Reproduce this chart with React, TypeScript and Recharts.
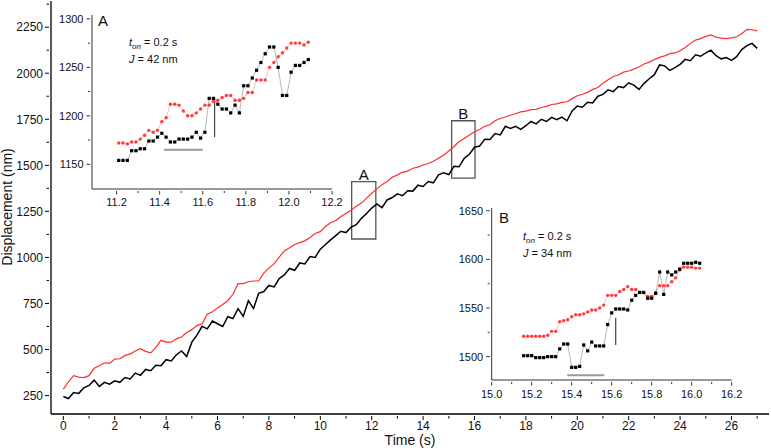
import React from 'react';
import { LineChart, Line, XAxis, YAxis, ReferenceArea, ReferenceLine } from 'recharts';

const FONT = '"Liberation Sans", Arial, Helvetica, sans-serif';

// ---------- main traces ----------
const TIME = [0,0.2,0.4,0.6,0.8,1,1.2,1.4,1.6,1.8,2,2.2,2.4,2.6,2.8,3,3.2,3.4,3.6,3.8,4,4.2,4.4,4.6,4.8,5,5.2,5.4,5.6,5.8,6,6.2,6.4,6.6,6.8,7,7.2,7.4,7.6,7.8,8,8.2,8.4,8.6,8.8,9,9.2,9.4,9.6,9.8,10,10.2,10.4,10.6,10.8,11,11.2,11.4,11.6,11.8,12,12.2,12.4,12.6,12.8,13,13.2,13.4,13.6,13.8,14,14.2,14.4,14.6,14.8,15,15.2,15.4,15.6,15.8,16,16.2,16.4,16.6,16.8,17,17.2,17.4,17.6,17.8,18,18.2,18.4,18.6,18.8,19,19.2,19.4,19.6,19.8,20,20.2,20.4,20.6,20.8,21,21.2,21.4,21.6,21.8,22,22.2,22.4,22.6,22.8,23,23.2,23.4,23.6,23.8,24,24.2,24.4,24.6,24.8,25,25.2,25.4,25.6,25.8,26,26.2,26.4,26.6,26.8,27];

const BLACK_TRACE = [
  245,234,266,262,292,305,334,300,322,312,
  330,322,348,340,372,360,392,385,415,412,
  445,438,472,492,462,540,578,626,612,655,
  640,625,678,668,722,680,765,722,805,815,
  848,840,885,905,940,930,970,965,1005,1000,
  1045,1070,1095,1118,1142,1135,1165,1178,1212,1238,
  1268,1290,1270,1312,1325,1345,1335,1362,1360,1392,
  1385,1412,1405,1448,1460,1450,1495,1492,1538,1560,
  1598,1605,1642,1640,1672,1665,1712,1700,1712,1695,
  1715,1738,1725,1750,1738,1760,1748,1762,1742,1795,
  1822,1815,1842,1838,1875,1885,1910,1900,1928,1922,
  1948,1935,1912,1945,1970,1992,2045,2040,2015,2030,
  2048,2075,2068,2100,2092,2110,2125,2095,2078,2085,
  2070,2090,2128,2150,2162,2135,
];

const RED_TRACE = [
  285,325,358,350,348,358,398,412,428,425,
  448,450,468,475,492,505,490,482,512,550,
  540,540,558,568,592,608,630,640,692,705,
  726,745,765,800,858,858,868,872,872,915,
  942,965,1002,1035,1052,1070,1080,1090,1108,1130,
  1140,1168,1188,1200,1222,1240,1256,1278,1295,1322,
  1348,1372,1395,1412,1435,1448,1462,1468,1484,1490,
  1502,1510,1522,1538,1556,1578,1602,1628,1646,1664,
  1682,1694,1712,1720,1742,1754,1762,1772,1780,1790,
  1794,1802,1804,1814,1820,1830,1834,1842,1845,1862,
  1878,1886,1896,1912,1922,1946,1964,1982,1990,2006,
  2012,2022,2034,2050,2060,2074,2086,2094,2106,2110,
  2122,2140,2162,2180,2188,2200,2208,2196,2190,2188,
  2192,2198,2214,2238,2236,2230,
];

const X_TICKS = [0,1,2,3,4,5,6,7,8,9,10,11,12,13,14,15,16,17,18,19,20,21,22,23,24,25,26,27];
const X_MAJOR = [0,2,4,6,8,10,12,14,16,18,20,22,24,26];
const Y_TICKS = [250,375,500,625,750,875,1000,1125,1250,1375,1500,1625,1750,1875,2000,2125,2250,2375];
const Y_MAJOR = [250,500,750,1000,1250,1500,1750,2000,2250];

// zoom boxes in the main plot
const BOX_LABELS = ['A', 'B'];
const BOX_X = [[11.22, 12.16], [15.11, 16.02]];
const BOX_Y = [[1100, 1411], [1430, 1742]];

// ---------- inset A ----------
const A_TIME = [11.21,11.23,11.25,11.27,11.29,11.31,11.33,11.35,11.37,11.39,11.41,11.43,11.45,11.47,11.49,11.51,11.53,11.55,11.57,11.59,11.61,11.63,11.65,11.67,11.69,11.71,11.73,11.75,11.77,11.79,11.81,11.83,11.85,11.87,11.89,11.91,11.93,11.95,11.97,11.99,12.01,12.03,12.05,12.07,12.09];
const A_BLACK = [1154,1154,1154,1164,1164,1166,1166,1174,1174,1178,1182,1178,1173,1173,1176,1176,1176,1178,1183,1177,1183,1218,1218,1212,1207,1207,1203,1211,1203,1231,1231,1239,1247,1255,1264,1271,1271,1250,1221,1221,1245,1252,1252,1255,1258];
const A_RED = [1172,1172,1171,1173,1173,1176,1180,1185,1183,1185,1194,1198,1212,1212,1211,1205,1200,1200,1203,1207,1211,1211,1215,1216,1219,1221,1221,1216,1216,1218,1224,1224,1237,1237,1237,1250,1255,1261,1265,1270,1275,1275,1275,1273,1276];
const A_X_TICKS = [11.2,11.3,11.4,11.5,11.6,11.7,11.8,11.9,12.0,12.1,12.2];
const A_X_MAJOR = [11.2,11.4,11.6,11.8,12.0,12.2];
const A_Y_TICKS = [1150,1175,1200,1225,1250,1275,1300];
const A_Y_MAJOR = [1150,1200,1250,1300];
const A_TON_BAR = [11.42, 11.6, 1165];
const A_J_BAR = [11.655, 1178, 1218];
const A_TEXT = ['A', '0.2 s', '42 nm'];

// ---------- inset B ----------
const B_TIME = [15.16,15.18,15.2,15.22,15.24,15.26,15.28,15.3,15.32,15.34,15.36,15.38,15.4,15.42,15.44,15.46,15.48,15.5,15.52,15.54,15.56,15.58,15.6,15.62,15.64,15.66,15.68,15.7,15.72,15.74,15.76,15.78,15.8,15.82,15.84,15.86,15.88,15.9,15.92,15.94,15.96,15.98,16.0,16.02,16.04];
const B_BLACK = [1501,1501,1501,1499,1499,1499,1500,1500,1500,1508,1513,1513,1489,1489,1490,1512,1506,1515,1511,1511,1511,1533,1545,1549,1549,1549,1548,1558,1563,1566,1566,1560,1560,1565,1587,1564,1587,1584,1587,1590,1596,1596,1596,1597,1596];
const B_RED = [1521,1521,1521,1521,1521,1521,1522,1526,1526,1536,1537,1538,1541,1543,1543,1544,1546,1548,1548,1550,1553,1563,1563,1563,1567,1569,1572,1569,1569,1566,1566,1562,1562,1566,1573,1573,1573,1577,1581,1589,1592,1592,1592,1591,1591];
const B_X_TICKS = [15.0,15.1,15.2,15.3,15.4,15.5,15.6,15.7,15.8,15.9,16.0,16.1,16.2];
const B_X_MAJOR = [15.0,15.2,15.4,15.6,15.8,16.0,16.2];
const B_Y_TICKS = [1500,1525,1550,1575,1600,1625,1650];
const B_Y_MAJOR = [1500,1550,1600,1650];
const B_TON_BAR = [15.378, 15.563, 1481];
const B_J_BAR = [15.62, 1512, 1540];
const B_TEXT = ['B', '0.2 s', '34 nm'];

const mainData = TIME.map((t, i) => ({ t, black: BLACK_TRACE[i], red: RED_TRACE[i] }));
const aData = A_TIME.map((t, i) => ({ t, black: A_BLACK[i], red: A_RED[i] }));
const bData = B_TIME.map((t, i) => ({ t, black: B_BLACK[i], red: B_RED[i] }));

const near = (a: number, b: number) => Math.abs(a - b) < 1e-6;

type TickOpts = {
  side: 'bottom' | 'left' | 'top' | 'right';
  majors: number[];
  majorLen: number;
  minorLen: number;
  fontSize?: number;
  offset?: number;
  fmt?: (v: number) => string;
  color?: string;
  labels?: boolean;
};

function makeTick(o: TickOpts) {
  return (props: any) => {
    const { x, y, payload } = props;
    const v = payload.value;
    const major = o.majors.some((m) => near(m, v));
    const L = major ? o.majorLen : o.minorLen;
    const c = o.color || '#000';
    const fmt = o.fmt || ((n: number) => String(n));
    const fs = o.fontSize || 12;
    const off = o.offset || 0;
    let line: any = null;
    let label: any = null;
    if (o.side === 'bottom') {
      line = <line x1={x} y1={y} x2={x} y2={y + L} stroke={c} strokeWidth={1} />;
      if (major && o.labels !== false)
        label = <text x={x} y={y + off} textAnchor="middle" fontSize={fs} fontFamily={FONT} fill="#111">{fmt(v)}</text>;
    } else if (o.side === 'left') {
      line = <line x1={x - L} y1={y} x2={x} y2={y} stroke={c} strokeWidth={1} />;
      if (major && o.labels !== false)
        label = <text x={x - off} y={y + fs * 0.36} textAnchor="end" fontSize={fs} fontFamily={FONT} fill="#111">{fmt(v)}</text>;
    } else if (o.side === 'top') {
      line = <line x1={x} y1={y} x2={x} y2={y + L} stroke={c} strokeWidth={1} />;
    } else {
      line = <line x1={x} y1={y} x2={x - L} y2={y} stroke={c} strokeWidth={1} />;
    }
    return <g>{line}{label}</g>;
  };
}

const SquareDot = (p: any) => {
  if (p.cx == null || p.cy == null) return <g key={p.index} />;
  return <rect key={p.index} x={p.cx - 1.6} y={p.cy - 1.6} width={3.2} height={3.2} fill="#000" />;
};
const RoundDot = (p: any) => {
  if (p.cx == null || p.cy == null) return <g key={p.index} />;
  return <circle key={p.index} cx={p.cx} cy={p.cy} r={1.7} fill="#ff3b3b" />;
};

const MAIN_X_DOMAIN: [number, number] = [-0.48, 27.46];
const MAIN_Y_DOMAIN: [number, number] = [150, 2392];

function MainChart() {
  return (
    <LineChart width={771} height={448} data={mainData} margin={{ top: 1, right: 2, bottom: 0, left: 0 }}>
      <XAxis dataKey="t" type="number" domain={MAIN_X_DOMAIN} allowDataOverflow ticks={X_TICKS} interval={0}
        height={34} tickSize={0} tickLine={false} axisLine={{ stroke: '#000', strokeWidth: 1.3 }}
        tick={makeTick({ side: 'bottom', majors: X_MAJOR, majorLen: 4, minorLen: 2.5, fontSize: 12, offset: 14 })} />
      <XAxis xAxisId="top" orientation="top" type="number" domain={MAIN_X_DOMAIN} allowDataOverflow ticks={X_TICKS} interval={0}
        height={0} tickSize={0} tickLine={false} axisLine={{ stroke: '#000', strokeWidth: 1.3 }}
        tick={makeTick({ side: 'top', majors: X_MAJOR, majorLen: 4, minorLen: 2.5 })} />
      <YAxis type="number" domain={MAIN_Y_DOMAIN} allowDataOverflow ticks={Y_TICKS} interval={0}
        width={51} tickSize={0} tickLine={false} axisLine={{ stroke: '#000', strokeWidth: 1.3 }}
        tick={makeTick({ side: 'left', majors: Y_MAJOR, majorLen: 4, minorLen: 2.5, fontSize: 12, offset: 6 })} />
      <YAxis yAxisId="right" orientation="right" type="number" domain={MAIN_Y_DOMAIN} allowDataOverflow ticks={Y_TICKS} interval={0}
        width={0} tickSize={0} tickLine={false} axisLine={{ stroke: '#000', strokeWidth: 1.3 }}
        tick={makeTick({ side: 'right', majors: Y_MAJOR, majorLen: 4, minorLen: 4 })} />
      {BOX_LABELS.map((lab, i) => (
        <ReferenceArea key={lab} x1={BOX_X[i][0]} x2={BOX_X[i][1]} y1={BOX_Y[i][0]} y2={BOX_Y[i][1]}
          fill="none" stroke="#555" strokeWidth={1.3} ifOverflow="visible"
          label={{ value: lab, position: 'top', offset: 2, fontSize: 15, fill: '#111', fontFamily: FONT }} />
      ))}
      <Line type="linear" dataKey="black" stroke="#000" strokeWidth={1.5} dot={false} isAnimationActive={false} />
      <Line type="linear" dataKey="red" stroke="#ff2d2d" strokeWidth={1.2} dot={false} isAnimationActive={false} />
    </LineChart>
  );
}

type InsetProps = {
  data: any[];
  width: number; height: number;
  margin: any; yWidth: number; xHeight: number;
  xDomain: [number, number]; yDomain: [number, number];
  xTicks: number[]; xMajor: number[]; yTicks: number[]; yMajor: number[];
  xOffset: number;
  tonBar: number[]; jBar: number[];
};

function Inset(p: InsetProps) {
  return (
    <LineChart width={p.width} height={p.height} data={p.data} margin={p.margin}>
      <XAxis dataKey="t" type="number" domain={p.xDomain} allowDataOverflow ticks={p.xTicks} interval={0}
        height={p.xHeight} tickSize={0} tickLine={false} axisLine={{ stroke: '#333', strokeWidth: 1 }}
        tick={makeTick({ side: 'bottom', majors: p.xMajor, majorLen: 3.5, minorLen: 2, fontSize: 11, offset: p.xOffset, color: '#333', fmt: (v) => v.toFixed(1) })} />
      <YAxis type="number" domain={p.yDomain} allowDataOverflow ticks={p.yTicks} interval={0}
        width={p.yWidth} tickSize={0} tickLine={false} axisLine={{ stroke: '#333', strokeWidth: 1 }}
        tick={makeTick({ side: 'left', majors: p.yMajor, majorLen: 3.5, minorLen: 2, fontSize: 11, offset: 6.5, color: '#333' })} />
      <ReferenceLine segment={[{ x: p.tonBar[0], y: p.tonBar[2] }, { x: p.tonBar[1], y: p.tonBar[2] }]}
        stroke="#9a9a9a" strokeWidth={2} ifOverflow="visible" />
      <ReferenceLine segment={[{ x: p.jBar[0], y: p.jBar[1] }, { x: p.jBar[0], y: p.jBar[2] }]}
        stroke="#444" strokeWidth={1.2} ifOverflow="visible" />
      <Line type="linear" dataKey="red" stroke="#ff9d9d" strokeWidth={0.7} dot={RoundDot} isAnimationActive={false} />
      <Line type="linear" dataKey="black" stroke="#9a9a9a" strokeWidth={0.7} dot={SquareDot} isAnimationActive={false} />
    </LineChart>
  );
}

function InsetText({ lx, ly, x, y, letter, ton, j }: { lx: number; ly: number; x: number; y: number; letter: string; ton: string; j: string }) {
  return (
    <g fontFamily={FONT} fill="#111">
      <text x={lx} y={ly} fontSize={15}>{letter}</text>
      <text x={x} y={y} fontSize={11}>
        <tspan fontStyle="italic">t</tspan>
        <tspan fontStyle="italic" fontSize={8} dy={2.5}>on</tspan>
        <tspan dy={-2.5}>{' = ' + ton}</tspan>
      </text>
      <text x={x} y={y + 16.5} fontSize={11}>
        <tspan fontStyle="italic">J</tspan>
        <tspan>{' = ' + j}</tspan>
      </text>
    </g>
  );
}

export default function App() {
  return (
    <div style={{ position: 'absolute', left: 0, top: 0, width: 771, height: 448, background: '#fff', overflow: 'hidden' }}>
      <div style={{ position: 'absolute', left: 0, top: 0 }}>
        <MainChart />
      </div>
      <div style={{ position: 'absolute', left: 0, top: 0 }}>
        <Inset data={aData} width={350} height={210} margin={{ top: 15, right: 18, bottom: 0, left: 0 }}
          yWidth={92} xHeight={21} xDomain={[11.086, 12.2]} yDomain={[1124.5, 1304]}
          xTicks={A_X_TICKS} xMajor={A_X_MAJOR} yTicks={A_Y_TICKS} yMajor={A_Y_MAJOR} xOffset={14.5}
          tonBar={A_TON_BAR} jBar={A_J_BAR} />
      </div>
      <div style={{ position: 'absolute', left: 440, top: 195 }}>
        <Inset data={bData} width={312} height={210} margin={{ top: 13, right: 20.3, bottom: 0, left: 0 }}
          yWidth={51.7} xHeight={25} xDomain={[15.0, 16.2]} yDomain={[1476, 1652.8]}
          xTicks={B_X_TICKS} xMajor={B_X_MAJOR} yTicks={B_Y_TICKS} yMajor={B_Y_MAJOR} xOffset={16}
          tonBar={B_TON_BAR} jBar={B_J_BAR} />
      </div>
      <svg width={771} height={448} style={{ position: 'absolute', left: 0, top: 0, pointerEvents: 'none' }}>
        <text x={12} y={207} transform="rotate(-90 12 207)" textAnchor="middle" fontSize={14} fontFamily={FONT} fill="#111">Displacement (nm)</text>
        <text x={410} y={445} textAnchor="middle" fontSize={14} fontFamily={FONT} fill="#111">Time (s)</text>
        <InsetText lx={98} ly={26} x={129} y={46} letter={A_TEXT[0]} ton={A_TEXT[1]} j={A_TEXT[2]} />
        <InsetText lx={499} ly={223} x={523} y={240} letter={B_TEXT[0]} ton={B_TEXT[1]} j={B_TEXT[2]} />
      </svg>
    </div>
  );
}
